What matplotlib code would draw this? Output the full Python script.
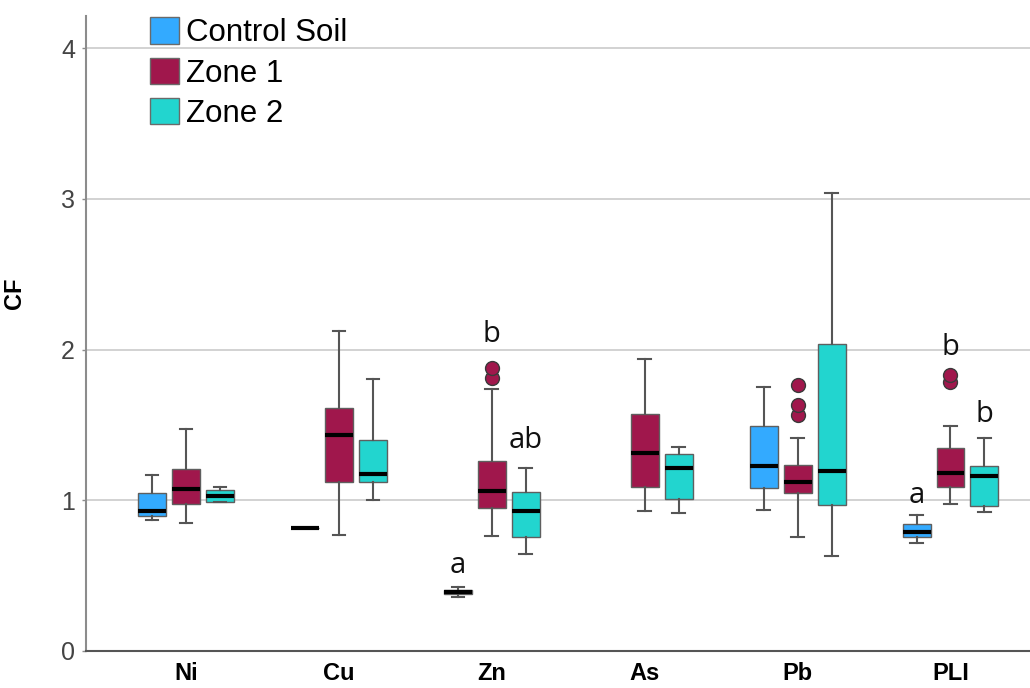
import numpy as np
import matplotlib.pyplot as plt
from matplotlib.patches import Patch

plt.rcParams['font.family'] = ['Liberation Sans', 'DejaVu Sans']

categories = ['Ni', 'Cu', 'Zn', 'As', 'Pb', 'PLI']
series = ['Control Soil', 'Zone 1', 'Zone 2']
colours = ['#33aaff', '#a0174c', '#22d5cf']

# per category: [whisker low, q1, median, q3, whisker high]  (None = no data)
control = [[0.867, 0.898, 0.931, 1.046, 1.168],
           [0.818, 0.818, 0.818, 0.818, 0.818],
           [0.356, 0.376, 0.391, 0.405, 0.423],
           None,
           [0.938, 1.084, 1.230, 1.491, 1.752],
           [0.715, 0.754, 0.788, 0.843, 0.900]]
zone1 = [[0.852, 0.973, 1.073, 1.206, 1.471],
         [0.772, 1.124, 1.433, 1.610, 2.123],
         [0.763, 0.947, 1.064, 1.263, 1.737],
         [0.931, 1.088, 1.312, 1.571, 1.938],
         [0.759, 1.046, 1.124, 1.234, 1.413],
         [0.975, 1.090, 1.183, 1.345, 1.493]]
zone2 = [[0.987, 0.991, 1.026, 1.068, 1.086],
         [1.002, 1.124, 1.177, 1.398, 1.805],
         [0.641, 0.756, 0.929, 1.055, 1.212],
         [0.914, 1.011, 1.216, 1.307, 1.354],
         [0.633, 0.969, 1.194, 2.035, 3.037],
         [0.924, 0.962, 1.161, 1.228, 1.415]]

# outliers
control_fliers = [[], [], [], [], [], []]
zone1_fliers = [[], [], [1.810, 1.880], [], [1.566, 1.632, 1.765], [1.783, 1.831]]
zone2_fliers = [[], [], [], [], [], []]

# significance letters
letter_cat = ['Zn', 'Zn', 'Zn', 'PLI', 'PLI', 'PLI']
letter_series = [0, 1, 2, 0, 1, 2]
letter_y = [0.52, 2.05, 1.35, 0.98, 1.965, 1.52]
letter_text = ['a', 'b', 'ab', 'a', 'b', 'b']

fig = plt.figure(figsize=(10.3, 6.88), dpi=100)
ax = fig.add_axes([86/1030, 37/688, 944/1030, 635/688])

offsets = [-0.222, 0.0, 0.222]
width = 0.183

all_data = [control, zone1, zone2]
all_fliers = [control_fliers, zone1_fliers, zone2_fliers]
for s in range(3):
    stats = []
    pos = []
    for i, row in enumerate(all_data[s]):
        if row is None:
            continue
        lo, q1, med, q3, hi = row
        stats.append(dict(whislo=lo, q1=q1, med=med, q3=q3, whishi=hi,
                          fliers=all_fliers[s][i]))
        pos.append(i + offsets[s])
    ax.bxp(stats, positions=pos, widths=width, capwidths=width * 0.45,
           patch_artist=True, showfliers=True,
           boxprops=dict(facecolor=colours[s], edgecolor='#5f5f5f', lw=1),
           medianprops=dict(color='black', lw=3, solid_capstyle='butt'),
           whiskerprops=dict(color='#555555', lw=1.5),
           capprops=dict(color='#555555', lw=1.5),
           flierprops=dict(marker='o', markerfacecolor=colours[s],
                           markeredgecolor='#3a3a3a', markersize=10, lw=0))

for c, s, y, t in zip(letter_cat, letter_series, letter_y, letter_text):
    ax.text(categories.index(c) + offsets[s], y, t, ha='center', va='baseline',
            fontsize=21, family=['Open Sans', 'DejaVu Sans'], color='#111111')

ax.set_xlim(-0.654, 5.52)
ax.set_ylim(0, 4.214)
ax.set_xticks(range(len(categories)))
ax.set_xticklabels(categories, fontsize=17, fontweight='bold')
ax.set_yticks([0, 1, 2, 3, 4])
ax.tick_params(axis='x', length=0, pad=8)
ax.tick_params(axis='y', length=3, width=1, color='#8c8c8c', labelsize=18,
               labelcolor='#444444', pad=5)
ax.yaxis.grid(True, color='#cfcfcf', lw=1.3)
ax.set_axisbelow(True)
for side in ['top', 'right']:
    ax.spines[side].set_visible(False)
ax.spines['left'].set_color('#8c8c8c')
ax.spines['left'].set_linewidth(1.5)
ax.spines['bottom'].set_color('#555555')
ax.spines['bottom'].set_linewidth(1.5)

ax.set_ylabel('CF', fontsize=17, fontweight='bold')
ax.yaxis.set_label_coords(-0.064, 0.564)

handles = [Patch(facecolor=colours[i], edgecolor='#6a6a6a', lw=1) for i in range(3)]
ax.legend(handles, series, loc='upper left', bbox_to_anchor=(0.0678, 0.998),
          frameon=False, fontsize=22.5, handlelength=0.92, handleheight=0.92,
          handletextpad=0.23, labelspacing=0.3, borderpad=0, borderaxespad=0)

fig.savefig('out.png', dpi=100)
